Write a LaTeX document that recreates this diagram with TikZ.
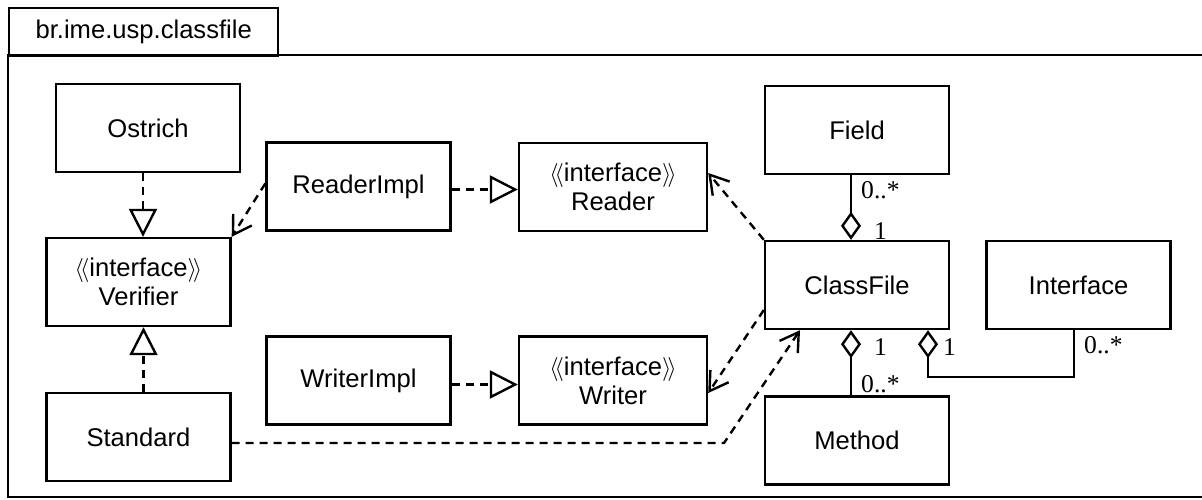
\documentclass[tikz,border=0pt]{standalone}
\usepackage{fontspec}
\setmainfont{Liberation Sans}
\newfontfamily\multfont{Liberation Serif}
\usetikzlibrary{arrows.meta, positioning}

\newcommand{\stereo}[1]{$\bigl\langle\!\bigl\langle$#1$\bigr\rangle\!\bigr\rangle$}

\begin{document}
\begin{tikzpicture}[x=0.5pt, y=-0.5pt, line width=1.2pt,
    font=\fontsize{12.8}{14.5}\selectfont,
    cls/.style={draw, minimum width=92pt, minimum height=44pt, align=center, inner sep=2pt},
    dep/.style={dash pattern=on 4pt off 3pt},
    realize/.style={dep, -{Triangle[open, length=14pt, width=14pt]}},
    uses/.style={dep, -{Straight Barb[length=9pt, width=11pt]}},
    aggr/.style={{Diamond[open, length=14pt, width=10pt]}-},
    mult/.style={font=\multfont\fontsize{12.8}{14.5}\selectfont, inner sep=1pt, anchor=west}]
\useasboundingbox (0,0) rectangle (1202,499);

% package frame
\node (pkgname) [draw, anchor=north west, minimum width=134.5pt, minimum height=24pt, inner sep=0pt] at (8,7) {br.ime.usp.classfile};
\draw (1202,55) -- (8,55) -- (8,497) -- (1202,497);

% classes
\node (ostrich) [cls] at (148,128) {Ostrich};
\node (verifier) [cls] at (138.5,282) {\stereo{interface}\\Verifier};
\node (standard) [cls] at (138.5,437) {Standard};
\node (readerimpl) [cls] at (358.5,186.5) {ReaderImpl};
\node (writerimpl) [cls] at (358.5,380.5) {WriterImpl};
\node (reader) [cls, minimum width=94pt] at (613,187) {\stereo{interface}\\Reader};
\node (writer) [cls, minimum width=94pt] at (613,380.5) {\stereo{interface}\\Writer};
\node (field) [cls] at (857,130) {Field};
\node (classfile) [cls] at (857,285) {ClassFile};
\node (interface) [cls] at (1078.5,285) {Interface};
\node (method) [cls] at (857,440.5) {Method};

% realizations
\draw[realize] ([xshift=-2.5pt]ostrich.south) -- ([xshift=-2.5pt]ostrich.south |- verifier.north);
\draw[realize] ([xshift=2.5pt]standard.north) -- ([xshift=2.5pt]standard.north |- verifier.south);
\draw[realize] ([yshift=-1.5pt]readerimpl.east) -- ([yshift=-1.5pt]readerimpl.east -| reader.west);
\draw[realize] ([yshift=-2pt]writerimpl.east) -- ([yshift=-2pt]writerimpl.east -| writer.west);

% dependencies
\draw[uses] ([yshift=1.5pt]readerimpl.west) -- (verifier.north east);
\draw[uses] (classfile.north west) -- ([yshift=7pt]reader.east);
\draw[uses] ([yshift=-12.5pt]classfile.west) -- ([yshift=-6.25pt]writer.east);
\coordinate (stdbend) at (724,443);
\draw[uses] ([yshift=-3pt]standard.east) -- (stdbend) -- ([xshift=-28.5pt]classfile.south);

% aggregations
\draw[aggr] ([xshift=-3pt]classfile.north) -- ([xshift=-3pt]field.south);
\draw[aggr] ([xshift=-3pt]classfile.south) -- ([xshift=-3pt]method.north);
\coordinate (ifbend) at (1074,377);
\draw[aggr] ([xshift=35.5pt]classfile.south) |- (ifbend) -- (ifbend |- interface.south);

% multiplicities
\node (mfield) [mult] at (858,190) {0..*};
\node (ofield) [mult] at (871,231) {1};
\node (omethod) [mult] at (871,347) {1};
\node (mmethod) [mult] at (858,384) {0..*};
\node (oif) [mult] at (940,347) {1};
\node (mif) [mult] at (1081,345) {0..*};
\end{tikzpicture}
\end{document}
